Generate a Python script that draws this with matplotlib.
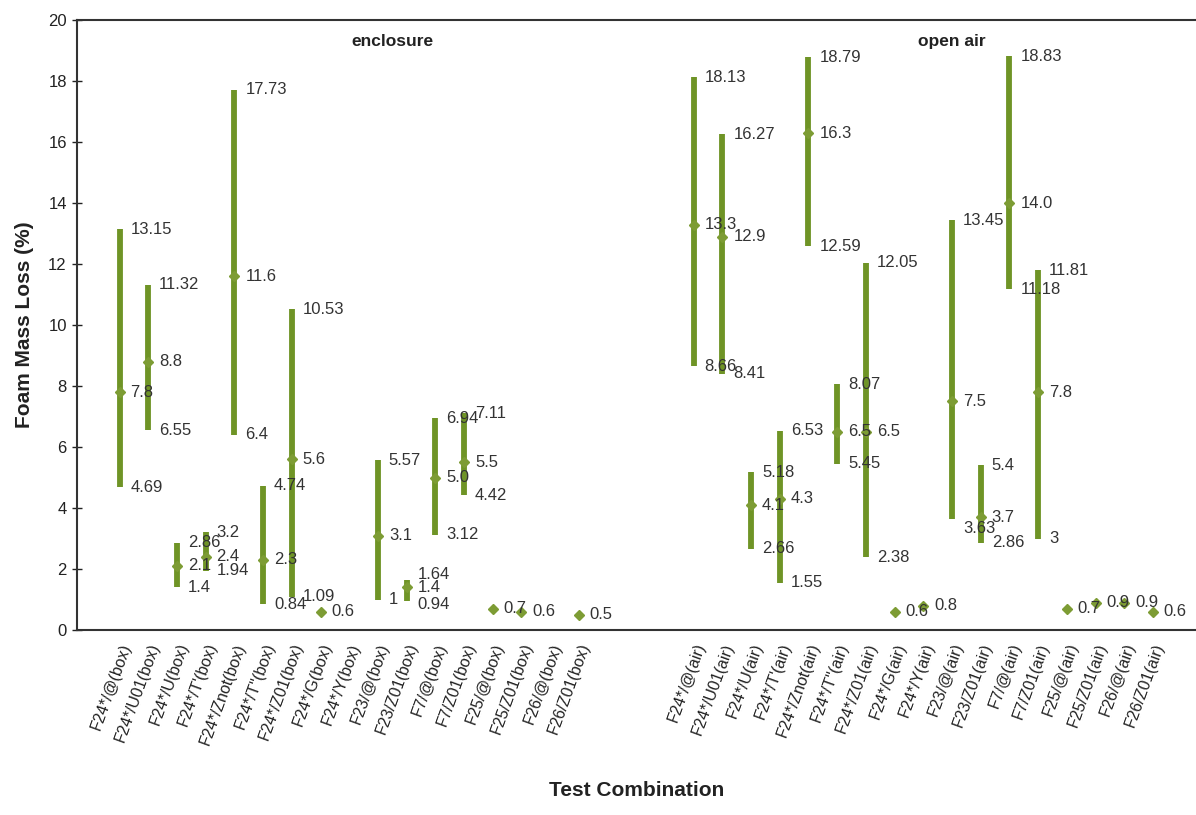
import matplotlib
matplotlib.use("Agg")
import matplotlib.pyplot as plt
import numpy as np

plt.rcParams['font.family'] = ['Liberation Sans', 'DejaVu Sans']

# test combinations, enclosure first then open air
suffixes = ["F24*/@", "F24*/U01", "F24*/U", "F24*/T'", "F24*/Znot", "F24*/T''",
            "F24*/Z01", "F24*/G", "F24*/Y", "F23/@", "F23/Z01", "F7/@", "F7/Z01",
            "F25/@", "F25/Z01", "F26/@", "F26/Z01"]
box_labels = [s + "(box)" for s in suffixes]
air_labels = [s + "(air)" for s in suffixes]

# high / mean / low foam mass loss (%); None = no data
box_high = [13.15, 11.32, 2.86, 3.2, 17.73, 4.74, 10.53, None, None, 5.57, 1.64, 6.94, 7.11, None, None, None, None]
box_mean = [7.8, 8.8, 2.1, 2.4, 11.6, 2.3, 5.6, 0.6, None, 3.1, 1.4, 5.0, 5.5, 0.7, 0.6, None, 0.5]
box_low = [4.69, 6.55, 1.4, 1.94, 6.4, 0.84, 1.09, None, None, 1, 0.94, 3.12, 4.42, None, None, None, None]

air_high = [18.13, 16.27, 5.18, 6.53, 18.79, 8.07, 12.05, None, None, 13.45, 5.4, 18.83, 11.81, None, None, None, None]
air_mean = [13.3, 12.9, 4.1, 4.3, 16.3, 6.5, 6.5, 0.6, 0.8, 7.5, 3.7, 14.0, 7.8, 0.7, 0.9, 0.9, 0.6]
air_low = [8.66, 8.41, 2.66, 1.55, 12.59, 5.45, 2.38, None, None, 3.63, 2.86, 11.18, 3, None, None, None, None]

mean_fmt_box = ["7.8", "8.8", "2.1", "2.4", "11.6", "2.3", "5.6", "0.6", "", "3.1", "1.4", "5.0", "5.5", "0.7", "0.6", "", "0.5"]
mean_fmt_air = ["13.3", "12.9", "4.1", "4.3", "16.3", "6.5", "6.5", "0.6", "0.8", "7.5", "3.7", "14.0", "7.8", "0.7", "0.9", "0.9", "0.6"]

bar_col = "#6f9426"
mark_col = "#7d9c34"
txt_col = "#333333"

fig = plt.figure(figsize=(11.96, 8.15), dpi=100)
ax = fig.add_axes([0.064, 0.227, 0.936, 0.748])

x_box = np.arange(17)
x_air = np.arange(17) + 20


def fmt(v):
    s = ("%.2f" % v).rstrip("0").rstrip(".")
    return s


def draw_group(xs, highs, means, lows, mlabels, low_shift=None):
    low_shift = low_shift or {}
    for i, (x, h, m, l, ml) in enumerate(zip(xs, highs, means, lows, mlabels)):
        # short bars get their high/low labels pushed apart a little
        nudge = 0.18 if (h is not None and h - l < 1.0) else 0.0
        if h is not None:
            ax.plot([x, x], [l, h], color=bar_col, lw=4.2, solid_capstyle='butt', zorder=2)
            ax.text(x + 0.38, h + nudge, fmt(h), ha='left', va='center', fontsize=12, color=txt_col, zorder=4)
            ax.text(x + 0.38, l - nudge * 0.5 + low_shift.get(i, 0), fmt(l), ha='left', va='center',
                    fontsize=12, color=txt_col, zorder=4)
        if m is not None:
            ax.plot(x, m, marker='D', ms=5, color=mark_col, mec=mark_col, zorder=3)
            ax.text(x + 0.38, m, ml, ha='left', va='center', fontsize=12, color=txt_col, zorder=4)


draw_group(x_box, box_high, box_mean, box_low, mean_fmt_box)
draw_group(x_air, air_high, air_mean, air_low, mean_fmt_air, low_shift={9: -0.3})

ax.set_xlim(-1.5, 37.5)
ax.set_ylim(0, 20)
ax.set_yticks(np.arange(0, 21, 2))
ax.tick_params(axis='y', direction='inout', length=7, width=1, labelsize=12, colors='#222222')
ax.set_xticks(list(x_box) + list(x_air))
ax.set_xticklabels(box_labels + air_labels, rotation=70, ha='right', rotation_mode='anchor',
                   fontsize=11.5, color='#222222')
ax.tick_params(axis='x', length=0, pad=8)

for side in ['left', 'bottom', 'top']:
    ax.spines[side].set_color('#333333')
    ax.spines[side].set_linewidth(1.5)
ax.spines['right'].set_visible(False)

ax.text(9.5, 19.3, "enclosure", ha='center', va='center', fontsize=12.5, fontweight='bold', color='#222222')
ax.text(29.0, 19.3, "open air", ha='center', va='center', fontsize=12.5, fontweight='bold', color='#222222')

ax.set_ylabel("Foam Mass Loss (%)", fontsize=15, fontweight='bold', color='#222222', labelpad=10)
fig.text(0.532, 0.018, "Test Combination", ha='center', va='bottom', fontsize=15, fontweight='bold', color='#222222')

fig.savefig("out.png", dpi=100)
